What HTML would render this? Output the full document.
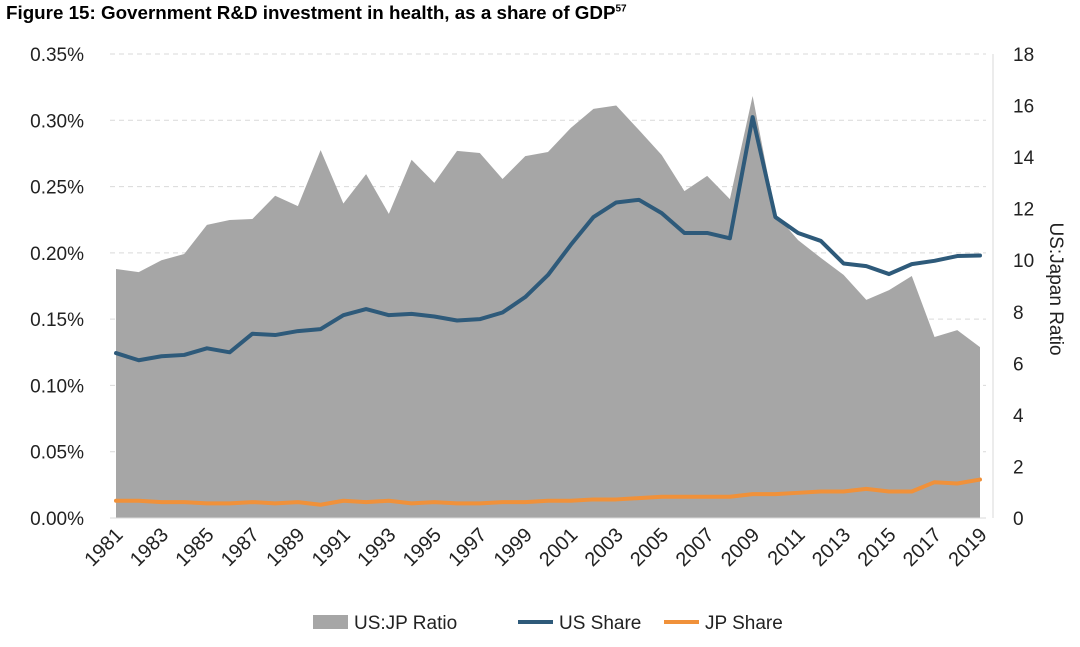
<!DOCTYPE html>
<html><head><meta charset="utf-8"><style>
body{margin:0;background:#fff;width:1080px;height:647px;overflow:hidden;font-family:"Liberation Sans",sans-serif}
#title{position:absolute;left:6px;top:2px;font-size:18.8px;font-weight:bold;font-family:"Liberation Sans",sans-serif}
</style></head><body>
<div id="title">Figure 15: Government R&amp;D investment in health, as a share of GDP<sup style="font-size:10px">57</sup></div>
<svg id="c" width="1080" height="647" style="position:absolute;left:0;top:0"></svg>
<script>
const years=[];for(let y=1981;y<=2019;y++)years.push(y);
const ratio=[9.66,9.54,10.0,10.24,11.37,11.56,11.6,12.5,12.1,14.27,12.2,13.34,11.8,13.9,13.0,14.24,14.16,13.15,14.04,14.2,15.13,15.87,16.0,15.05,14.08,12.68,13.27,12.37,16.37,11.8,10.78,10.09,9.43,8.46,8.84,9.39,7.02,7.29,6.63];
const usShare=[0.1244,0.119,0.122,0.123,0.128,0.125,0.139,0.138,0.141,0.1425,0.153,0.1576,0.153,0.154,0.152,0.149,0.150,0.155,0.1667,0.1833,0.206,0.227,0.238,0.240,0.230,0.215,0.215,0.211,0.3024,0.227,0.215,0.209,0.192,0.190,0.184,0.1915,0.194,0.1976,0.198];
const jpShare=[0.013,0.013,0.012,0.012,0.011,0.011,0.012,0.011,0.012,0.010,0.013,0.012,0.013,0.011,0.012,0.011,0.011,0.012,0.012,0.013,0.013,0.014,0.014,0.015,0.016,0.016,0.016,0.016,0.018,0.018,0.019,0.020,0.020,0.022,0.020,0.020,0.027,0.026,0.029];
const leftTicks=[0,0.05,0.10,0.15,0.20,0.25,0.30,0.35];
const rightTicks=[0,2,4,6,8,10,12,14,16,18];
const NS="http://www.w3.org/2000/svg",svg=document.getElementById('c');
const X0=116,X1=980,Y0=518,Y1=54;
const x=i=>X0+(X1-X0)*i/(years.length-1);
const yl=v=>Y0-(Y0-Y1)*v/0.35;
const yr=v=>Y0-(Y0-Y1)*v/18;
function mk(t,a,txt){const e=document.createElementNS(NS,t);for(const k in a)e.setAttribute(k,a[k]);if(txt!=null)e.textContent=txt;svg.appendChild(e);return e;}
leftTicks.forEach(v=>{
 if(v>0){const g=mk('line',{x1:X0-6,x2:X1+6,y1:yl(v),y2:yl(v),stroke:'#d9d9d9','stroke-dasharray':'5,4'});
 
 }
 const t=mk('text',{x:84,y:yl(v)+7,'text-anchor':'end','font-size':19,fill:'#222'},v.toFixed(2)+'%');
 
 
});
rightTicks.forEach(v=>{
 const t=mk('text',{x:1013,y:yr(v)+7,'text-anchor':'start','font-size':19,fill:'#222'},v);
 
 
});
let d='M'+x(0)+','+Y0;ratio.forEach((v,i)=>d+='L'+x(i)+','+yr(v));d+='L'+x(ratio.length-1)+','+Y0+'Z';
const area=mk('path',{d:d,fill:'#a6a6a6'});


mk('line',{x1:X0-6,x2:X1+6,y1:Y0,y2:Y0,stroke:'#d9d9d9'});
mk('line',{x1:993,x2:993,y1:Y1,y2:Y0,stroke:'#d9d9d9'});
function line(arr,col,name){const p=mk('polyline',{points:arr.map((v,i)=>x(i)+','+yl(v)).join(' '),fill:'none',stroke:col,'stroke-width':4,'stroke-linejoin':'round','stroke-linecap':'round'});
 
 }
line(jpShare,'#f0913a','jp-share-line');
line(usShare,'#2e5a7a','us-share-line');
years.forEach((yv,i)=>{if(i%2)return;
 const t=mk('text',{x:x(i)+8,y:536,'text-anchor':'end','font-size':20,fill:'#222',transform:`rotate(-45 ${x(i)+8} 536)`},yv);
 
 
});
const at=mk('text',{x:1050,y:289,'text-anchor':'middle','font-size':19,fill:'#222',transform:'rotate(90 1050 289)'},'US:Japan Ratio');


const lg=[['rect','#a6a6a6','US:JP Ratio',313],['line','#2e5a7a','US Share',518],['line','#f0913a','JP Share',664]];
lg.forEach(([k,c,l,lx])=>{
 if(k=='rect')mk('rect',{x:lx,y:615,width:35,height:14,fill:c});
 else mk('line',{x1:lx,x2:lx+35,y1:622,y2:622,stroke:c,'stroke-width':4});
 const t=mk('text',{x:lx+41,y:629,'font-size':19,fill:'#222'},l);
 
 
});
</script>
</body></html>
